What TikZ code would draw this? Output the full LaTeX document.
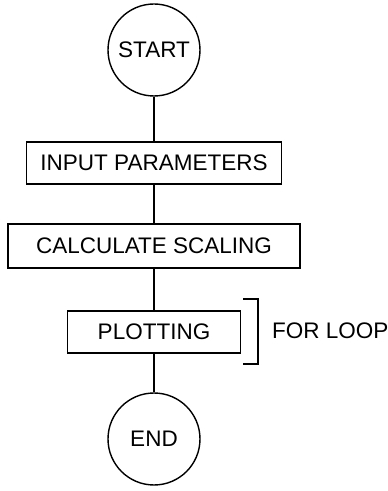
\documentclass[tikz,border=0pt]{standalone}
\usepackage{fontspec}
\setmainfont{Liberation Sans}
\begin{document}
\begin{tikzpicture}[
        x=1pt, y=1pt,
        every node/.style={font=\fontsize{22.5}{27}\selectfont},
        box/.style={rectangle, draw, line width=1.4pt, minimum height=42pt, align=center},
        term/.style={circle, draw, line width=1.4pt, minimum size=92pt},
        link/.style={line width=1.4pt}
    ]
        \useasboundingbox (0,0) rectangle (388,491);
        \node[term] (start) at (154,441) {START};
        \node[box, minimum width=255pt] (input) at (154,328) {INPUT PARAMETERS};
        \node[box, minimum width=292pt, minimum height=44pt] (scaling) at (154,245) {CALCULATE SCALING};
        \node[box, minimum width=173pt] (plotting) at (154,159) {PLOTTING};
        \node[term] (end) at (154,52) {END};
        
        \draw[link] (start) -- (input);
        \draw[link] (input) -- (scaling);
        \draw[link] (scaling) -- (plotting);
        \draw[link] (plotting) -- (end);
        
        \coordinate (looptop) at (243,192);
        \coordinate (loopbot) at (243,127);
        \draw[link] (looptop) -- ++(15,0) |- (loopbot);
        \node[anchor=west, inner sep=0pt] (loop) at (272,160) {FOR LOOP};
    \end{tikzpicture}
\end{document}
